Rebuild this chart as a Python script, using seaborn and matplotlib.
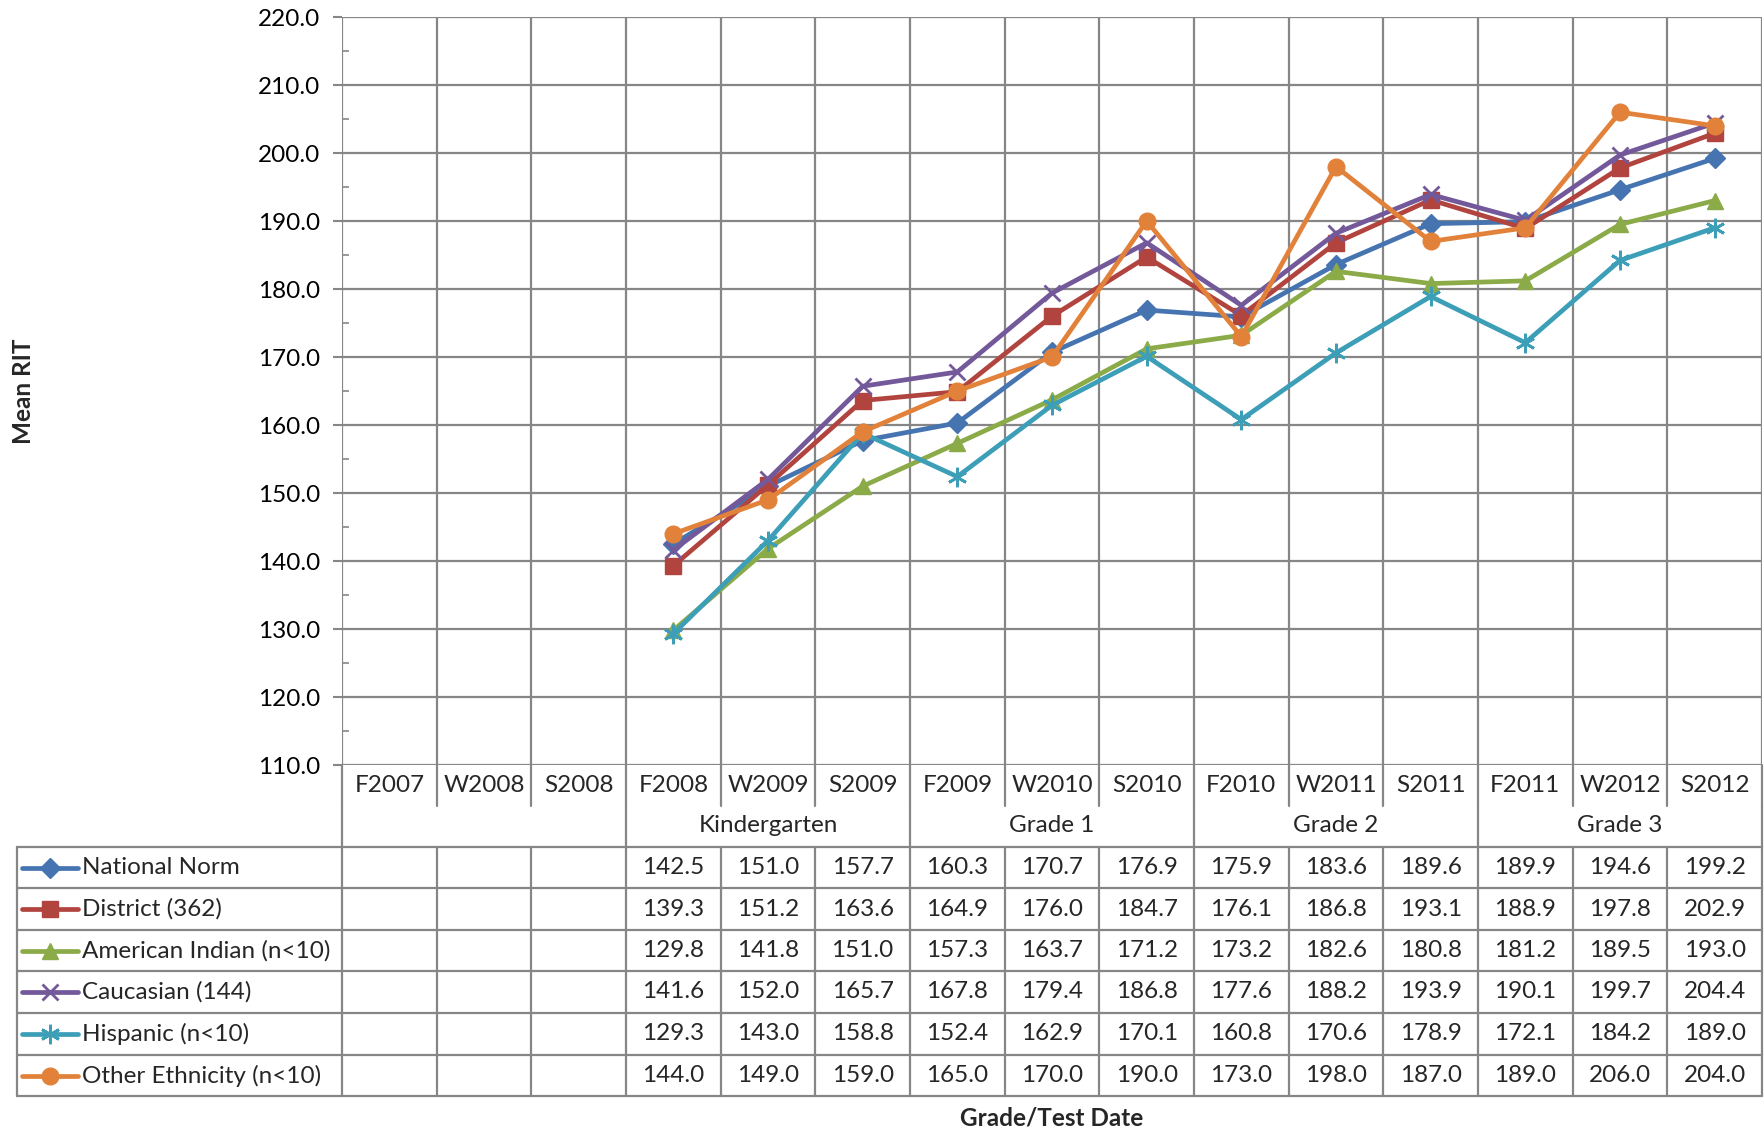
import numpy as np
import pandas as pd
import matplotlib
matplotlib.use("Agg")
import matplotlib.pyplot as plt
import seaborn as sns
from matplotlib.lines import Line2D
from matplotlib import transforms

# ---------------- data ----------------
dates = ["F2007", "W2008", "S2008", "F2008", "W2009", "S2009", "F2009", "W2010",
         "S2010", "F2010", "W2011", "S2011", "F2011", "W2012", "S2012"]
grades = ["Kindergarten", "Grade 1", "Grade 2", "Grade 3"]
grade_start = [3, 6, 9, 12]
grade_end = [5, 8, 11, 14]

nan = np.nan
national_norm = [nan, nan, nan, 142.5, 151.0, 157.7, 160.3, 170.7, 176.9, 175.9, 183.6, 189.6, 189.9, 194.6, 199.2]
district = [nan, nan, nan, 139.3, 151.2, 163.6, 164.9, 176.0, 184.7, 176.1, 186.8, 193.1, 188.9, 197.8, 202.9]
american_indian = [nan, nan, nan, 129.8, 141.8, 151.0, 157.3, 163.7, 171.2, 173.2, 182.6, 180.8, 181.2, 189.5, 193.0]
caucasian = [nan, nan, nan, 141.6, 152.0, 165.7, 167.8, 179.4, 186.8, 177.6, 188.2, 193.9, 190.1, 199.7, 204.4]
hispanic = [nan, nan, nan, 129.3, 143.0, 158.8, 152.4, 162.9, 170.1, 160.8, 170.6, 178.9, 172.1, 184.2, 189.0]
other_ethnicity = [nan, nan, nan, 144.0, 149.0, 159.0, 165.0, 170.0, 190.0, 173.0, 198.0, 187.0, 189.0, 206.0, 204.0]

series_names = ["National Norm", "District (362)", "American Indian (n<10)",
                "Caucasian (144)", "Hispanic (n<10)", "Other Ethnicity (n<10)"]
series_values = [national_norm, district, american_indian, caucasian, hispanic, other_ethnicity]

y_ticks = [110, 120, 130, 140, 150, 160, 170, 180, 190, 200, 210, 220]

# ---------------- styling ----------------
colors = ["#4674B0", "#B2443F", "#8BAA48", "#73589A", "#3D9EB8", "#E2823A"]
markers = ["D", "s", "^", "x", (6, 2, 0), "o"]
msizes = [10.5, 11, 12, 12, 14, 12]
grid_c = "#868686"

sns.set_theme(style="white")
plt.rcParams["font.family"] = ["Lato", "DejaVu Sans"]
FS = 17.5

W, H = 1765, 1134
fig = plt.figure(figsize=(W / 100, H / 100), dpi=100)
L, R, T, B = 342, 1762, 17, 765
ax = fig.add_axes([L / W, 1 - B / H, (R - L) / W, (B - T) / H])

n = len(dates)
ax.set_xlim(-0.5, n - 0.5)
ax.set_ylim(110, 220)

# grid
for yv in y_ticks:
    ax.axhline(yv, color=grid_c, lw=1.6, zorder=0)
for k in range(n + 1):
    ax.axvline(k - 0.5, color=grid_c, lw=1.6, zorder=0)
for s in ax.spines.values():
    s.set_visible(False)

# series
x_pos = np.arange(n)
for name, vals, c, m, ms in zip(series_names, series_values, colors, markers, msizes):
    df = pd.DataFrame({"x": x_pos, "y": vals}).dropna()
    sns.lineplot(data=df, x="x", y="y", ax=ax, color=c, lw=3.4, marker=m,
                 markersize=ms, markeredgecolor=c, markerfacecolor=c,
                 markeredgewidth=2 if m in ("x", (6, 2, 0)) else 1,
                 sort=False, legend=False, zorder=3)

ax.set_xlabel("")
ax.set_ylabel("")
ax.set_xticks([])
ax.set_yticks(y_ticks)
ax.set_yticklabels([f"{v:.1f}" for v in y_ticks], fontsize=FS, color="black")
ax.set_yticks(np.arange(115, 220, 10), minor=True)
ax.tick_params(axis="y", which="major", direction="out", length=6.5, width=1.5,
               color=grid_c, pad=9, left=True)
ax.tick_params(axis="y", which="minor", direction="in", length=5, width=1.2,
               color=grid_c, left=True)

# ---------------- data table ----------------
trans = transforms.blended_transform_factory(ax.transData, fig.transFigure)
colw = (R - L) / n


def dx(px):
    return -0.5 + (px - L) / colw


def fy(py):
    return 1 - py / H


def hline(x0, x1, py):
    fig.add_artist(Line2D([x0, x1], [fy(py), fy(py)], transform=trans, color=grid_c, lw=1.6))


def vline(xd, p0, p1):
    fig.add_artist(Line2D([xd, xd], [fy(p0), fy(p1)], transform=trans, color=grid_c, lw=1.6))


date_row_bot = 806
grade_row_bot = 847
row_edges = [847, 888, 930, 971, 1013, 1055, 1096]
legend_left = dx(17)

# date row verticals
for k in range(n + 1):
    vline(k - 0.5, B, date_row_bot)
# grade row verticals
for k in [-0.5, 2.5] + [e + 0.5 for e in grade_end]:
    vline(k, date_row_bot, grade_row_bot)
# series rows
for py in row_edges:
    hline(legend_left, n - 0.5, py)
for k in range(n + 1):
    vline(k - 0.5, row_edges[0], row_edges[-1])
vline(legend_left, row_edges[0], row_edges[-1])

# date labels
for k, d in enumerate(dates):
    fig.text(k, fy(785), d, transform=trans, ha="center", va="center", fontsize=FS)
# grade labels
for g, s0, s1 in zip(grades, grade_start, grade_end):
    fig.text((s0 + s1) / 2, fy(826), g, transform=trans, ha="center", va="center", fontsize=FS)

# series rows
for i, (name, vals, c, m, ms) in enumerate(zip(series_names, series_values, colors, markers, msizes)):
    yc = (row_edges[i] + row_edges[i + 1]) / 2
    fig.add_artist(Line2D([dx(22), dx(78)], [fy(yc), fy(yc)], transform=trans,
                          color=c, lw=3.4))
    fig.add_artist(Line2D([dx(50)], [fy(yc)], transform=trans, color=c, marker=m,
                          markersize=ms, markeredgecolor=c, markerfacecolor=c,
                          markeredgewidth=2 if m in ("x", (6, 2, 0)) else 1, lw=0))
    fig.text(dx(82), fy(yc), name, transform=trans, ha="left", va="center", fontsize=FS)
    for k, v in enumerate(vals):
        if not np.isnan(v):
            fig.text(k, fy(yc), f"{v:.1f}", transform=trans, ha="center", va="center", fontsize=FS)

# axis titles
fig.text(24 / W, fy(391), "Mean RIT", rotation=90, ha="center", va="center",
         fontsize=FS, fontweight="bold")
fig.text(1052 / W, fy(1118), "Grade/Test Date", ha="center", va="center",
         fontsize=FS, fontweight="bold")

fig.savefig("out.png", dpi=100, facecolor="white")
